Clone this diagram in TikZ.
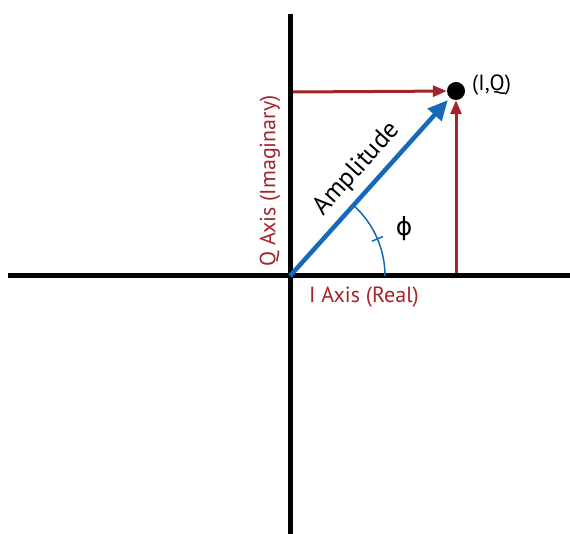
\documentclass[tikz,border=0pt]{standalone}
\usepackage{fontspec}
\setmainfont{PT Sans}
\newfontfamily\greekfont{DejaVu Sans}
\usetikzlibrary{arrows.meta,calc,positioning}
\definecolor{axisred}{RGB}{163,36,42}
\definecolor{vecblue}{RGB}{22,104,184}

\begin{document}
\begin{tikzpicture}[x=1pt, y=1pt, font=\fontsize{22}{24}\selectfont,
  axis/.style={line width=5pt},
  redarrow/.style={axisred, line width=3pt, -{Triangle[length=14pt,width=11pt]}},
  bluearrow/.style={vecblue, line width=4.5pt, -{Triangle[length=20pt,width=18pt]}},
  dot/.style={circle, fill=black, inner sep=0pt, minimum size=18pt}]
\useasboundingbox (0,0) rectangle (570,-534);
% --- assi I e Q ---
\coordinate (O) at (290,-276);
\coordinate (xl) at (8,-276);
\coordinate (xr) at (570,-276);
\coordinate (yt) at (290,-14);
\coordinate (yb) at (290,-534);
\draw[axis] (xl) -- (xr);
\draw[axis] (yt) -- (yb);
\node[axisred, rotate=90] (qlab) at (270,-181) {Q Axis (Imaginary)};
\node[axisred] (ilab) at (364,-297) {I Axis (Real)};
% --- punto e proiezioni ---
\node[dot] (P) at (456,-91) {};
\node[anchor=west, inner sep=0pt] (plab) at (472,-85) {(I,Q)};
\coordinate (qp) at (293,-92);
\coordinate (ip) at (456,-273);
\draw[redarrow] (qp) -- (P);
\draw[redarrow] (ip) -- (P);
% --- vettore e angolo ---
\draw[bluearrow, shorten >=3pt] (O) -- (P)
  node[black, font=\fontsize{26}{28}\selectfont, pos=0.52, above=4pt, sloped]{Amplitude};
\draw[vecblue, line width=1.5pt] ($(O)+(0:95)$) arc[start angle=0, end angle=48, radius=95pt];
\draw[vecblue, line width=1.5pt] ($(O)+(23:89)$) -- ($(O)+(23:101)$);
\node[font=\greekfont\fontsize{25}{27}\selectfont] (phi) at (404,-229) {ϕ};
\end{tikzpicture}
\end{document}
